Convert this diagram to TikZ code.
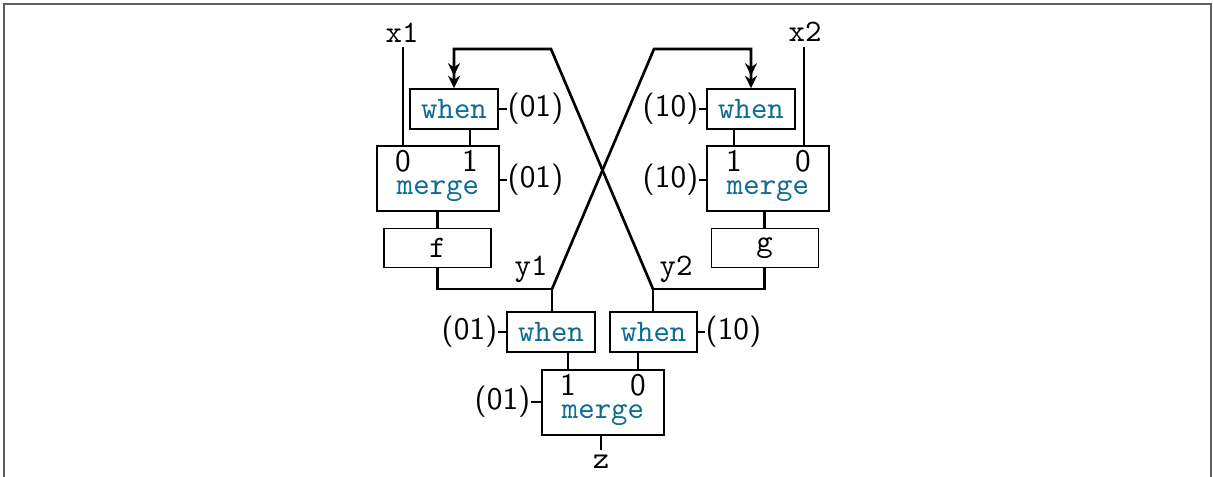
\documentclass[tikz,border=0pt]{standalone}
\usetikzlibrary{arrows.meta}
\definecolor{kwblue}{RGB}{14,107,148}
\definecolor{framegray}{RGB}{95,95,95}
\newcommand\pxu{0.3195pt}
\begin{document}
\begin{tikzpicture}[x=0.3195pt,y=-0.3195pt,
  conn/.style={line width=0.85pt},
  arr/.style={conn,-{Stealth[length=4pt,width=3.8pt]Stealth[length=4pt,width=3.8pt]}},
  blk/.style={draw,line width=0.45pt,inner sep=0pt,minimum height=40*\pxu},
  whenbox/.style={blk,text=kwblue,font=\ttfamily,minimum width=88*\pxu},
  fbox/.style={blk,font=\ttfamily,minimum width=107*\pxu,minimum height=39.5*\pxu},
  mbox/.style={blk,minimum width=122*\pxu,minimum height=65*\pxu},
  kw/.style={text=kwblue,font=\ttfamily,inner sep=0pt,anchor=base},
  dig/.style={font=\sffamily,inner sep=0pt,anchor=base},
  rlab/.style={font=\sffamily,inner sep=0pt,anchor=west},
  llab/.style={font=\sffamily,inner sep=0pt,anchor=east},
  var/.style={font=\ttfamily,inner sep=0pt,anchor=base}]
\useasboundingbox (0,0) rectangle (1213,477);
% frame
\draw[framegray,line width=0.6pt] (4,477) -- (4,4) -- (1211,4) -- (1211,477);

% ---------- left column ----------
\node[whenbox] (w1) at (454,109) {when};
\node[mbox] (m1) at (438,178.5) {};
\node[kw] (m1t) at (438,195) {merge};
\node[dig] (d10) at (403,172) {0};
\node[dig] (d11) at (470,172) {1};
\node[fbox] (f) at (437.5,248) {f};
\node[var] (x1) at (402,42.5) {x1};
\coordinate (x1e) at (403,47);
\node[rlab] (lw1) at (507,109) {(01)};
\node[rlab] (lm1) at (507,180) {(01)};

% ---------- right column ----------
\node[whenbox] (w2) at (751,109) {when};
\node[mbox] (m2) at (768,178.5) {};
\node[kw] (m2t) at (768,195) {merge};
\node[dig] (d21) at (734,172) {1};
\node[dig] (d20) at (803,172) {0};
\node[fbox] (g) at (764.7,248) {g};
\node[var] (x2) at (805,42) {x2};
\coordinate (x2e) at (804,47);
\node[llab] (lw2) at (699,109) {(10)};
\node[llab] (lm2) at (699,180) {(10)};

% ---------- bottom ----------
\node[whenbox] (w3) at (551,332) {when};
\node[whenbox,minimum width=87*\pxu] (w4) at (653.5,332) {when};
\node[llab] (lw3) at (498,332) {(01)};
\node[rlab] (lw4) at (705,332) {(10)};
\node[mbox] (m3) at (603,402.5) {};
\node[kw] (m3t) at (603,419) {merge};
\node[dig] (d31) at (568,396) {1};
\node[dig] (d30) at (638,396) {0};
\node[llab] (lm3) at (531,402) {(01)};
\node[var] (z) at (601,469) {z};
\coordinate (ze) at (601,450);

\node[var] (y1) at (531,276) {y1};
\node[var] (y2) at (676,276) {y2};

\coordinate (j1) at (552,289);
\coordinate (j2) at (653,289);
\coordinate (t1) at (551,49);
\coordinate (t2) at (654,49);

% ---------- connectors ----------
\draw[conn] (x1e) -- (m1.north -| x1e);
\draw[conn] (w1.south -| d11) -- (m1.north -| d11);
\draw[conn] (m1.south -| f.north) -- (f.north);
\draw[conn] (f.south) |- (j1);
\draw[conn] (x2e) -- (m2.north -| x2e);
\draw[conn] (w2.south -| d21) -- (m2.north -| d21);
\draw[conn] (m2.south -| g.north) -- (g.north);
\draw[conn] (g.south) |- (j2);

\draw[arr] (j2) -- (t1) -| (w1.north);
\draw[arr] (j1) -- (t2) -| (w2.north);

\draw[conn] (j1) -- (j1 |- w3.north);
\draw[conn] (j2) -- (j2 |- w4.north);
\draw[conn] (w3.south -| d31) -- (m3.north -| d31);
\draw[conn] (w4.south -| d30) -- (m3.north -| d30);
\draw[conn] (m3.south -| ze) -- (ze);

% label ticks
\draw[conn] (w1.east) -- (lw1.west);
\draw[conn] (m1.east |- lm1.west) -- (lm1.west);
\draw[conn] (w2.west) -- (lw2.east);
\draw[conn] (m2.west |- lm2.east) -- (lm2.east);
\draw[conn] (w3.west) -- (lw3.east);
\draw[conn] (w4.east) -- (lw4.west);
\draw[conn] (m3.west |- lm3.east) -- (lm3.east);
\end{tikzpicture}
\end{document}
